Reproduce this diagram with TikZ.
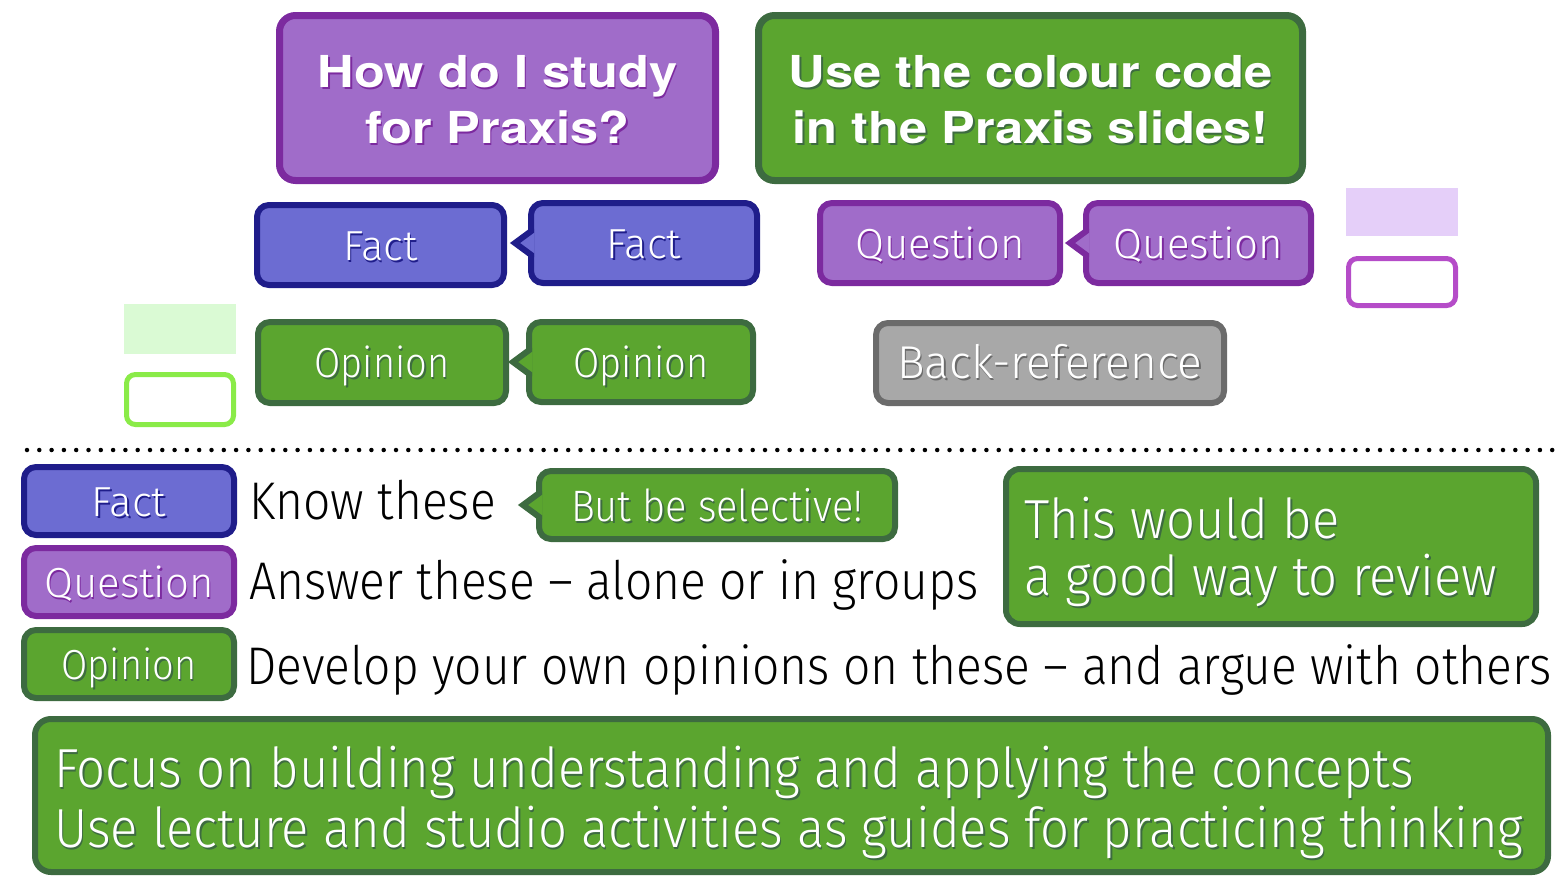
\documentclass[tikz,border=0pt]{standalone}
\usepackage{fontspec}
\setmainfont{Fira Sans Light}
\newfontfamily\legfont{Fira Sans Light}[FakeStretch=0.905]
\newfontfamily\bigfont{Fira Sans Light}[FakeStretch=0.925]
\newfontfamily\headfont{TeX Gyre Heros}[FakeStretch=1.15]
\usetikzlibrary{calc}

\definecolor{factfill}{HTML}{6C6CD2}
\definecolor{factline}{HTML}{1F1D8A}
\definecolor{qfill}{HTML}{A06CC9}
\definecolor{qline}{HTML}{7C2A9F}
\definecolor{opfill}{HTML}{5BA52F}
\definecolor{opline}{HTML}{3D6B40}
\definecolor{grfill}{HTML}{A8A8A8}
\definecolor{grline}{HTML}{6B6B6B}
\definecolor{palepurple}{HTML}{E5CFF9}
\definecolor{brightpurple}{HTML}{B54CC8}
\definecolor{palegreen}{HTML}{DAFAD4}
\definecolor{brightgreen}{HTML}{8AEB48}
\colorlet{shc}{black!50}

% white lettering with a small dark drop shadow
\newcommand\shd[1]{\leavevmode\rlap{\kern1.5pt\raisebox{-2pt}{\color{shc}#1}}#1}

\begin{document}
\begin{tikzpicture}[x=1pt,y=-1pt,
  shadowcol/.code={\colorlet{shc}{#1}},
  tag/.style={rounded corners=12pt, line width=6pt, outer sep=0pt, inner sep=0pt,
    text=white, font=\fontsize{42}{46}\selectfont, text height=30pt, text depth=0pt},
  facttag/.style={tag, draw=factline, fill=factfill, shadowcol=factline},
  qtag/.style={tag, draw=qline, fill=qfill, shadowcol=qline},
  optag/.style={tag, draw=opline, fill=opfill, shadowcol=opline,
    font=\legfont\fontsize{42}{46}\selectfont},
  grtag/.style={tag, draw=grline, fill=grfill, shadowcol=grline},
  headbox/.style={rounded corners=16pt, line width=7pt, outer sep=0pt},
  headtext/.style={text=white, inner sep=0pt, anchor=base,
    font=\headfont\bfseries\fontsize{44}{56}\selectfont},
  bigtext/.style={inner sep=0pt, anchor=base west, font=\bigfont\fontsize{55}{60}\selectfont},
  legtext/.style={inner sep=0pt, anchor=base west, text=black,
    font=\legfont\fontsize{53}{58}\selectfont},
  swatch/.style={inner sep=0pt, outer sep=0pt, minimum width=112pt},
  blank/.style={rounded corners=9pt, line width=5pt, fill=white, inner sep=0pt,
    minimum width=107pt},
  dots/.style={line width=4.5pt, line cap=round, dash pattern=on 0pt off 12.3pt},
]
\useasboundingbox (0,0) rectangle (1563,876);

% ---- title boxes
\node[headbox, draw=qline, fill=qfill, minimum width=436pt, minimum height=165pt]
  (h1) at (497.5,98) {};
\node[headtext, shadowcol=qline] (h1a) at (497.5,87) {\shd{How do I study}};
\node[headtext, shadowcol=qline] (h1b) at (497.5,143) {\shd{for Praxis?}};

\node[headbox, draw=opline, fill=opfill, minimum width=544pt, minimum height=165pt]
  (h2) at (1030.5,98) {};
\node[headtext, shadowcol=opline] (h2a) at (1030.5,87) {\shd{Use the colour code}};
\node[headtext, shadowcol=opline] (h2b) at (1030.5,143) {\shd{in the Praxis slides!}};

% ---- sample tags, each pair with a reply bubble
\node[facttag, minimum width=247pt, minimum height=80pt] (f1) at (380.5,245) {\shd{Fact}};
\node[facttag, minimum width=226pt, minimum height=80pt] (f2) at (644,243) {\shd{Fact}};
\node[qtag, minimum width=240pt, minimum height=80pt] (q1) at (940,243) {\shd{Question}};
\node[qtag, minimum width=225pt, minimum height=80pt] (q2) at (1198.5,243) {\shd{Question}};
\node[optag, minimum width=248pt, minimum height=81pt] (o1) at (382,362.5) {\shd{Opinion}};
\node[optag, minimum width=224pt, minimum height=80pt] (o2) at (641,362) {\shd{Opinion}};
\node[grtag, minimum width=348pt, minimum height=80pt, text height=31pt,
  font=\fontsize{46}{50}\selectfont] (br) at (1050,363) {\shd{Back-reference}};

% ---- colour swatches
\node[swatch, fill=palepurple, minimum height=48pt] (sp) at (1402,212) {};
\node[blank, draw=brightpurple, minimum height=47pt] (bp) at (1402,282) {};
\node[swatch, fill=palegreen, minimum height=50pt] (sg) at (180,329) {};
\node[blank, draw=brightgreen, minimum height=50pt] (bg) at (180,399.5) {};

% ---- separator
\coordinate (dl) at (27,450);
\coordinate (dr) at (1558,450);
\draw[dots] (dl) -- (dr);

% ---- legend
\node[facttag, minimum width=210pt, minimum height=68pt] (lf) at (129,501) {\shd{Fact}};
\node[qtag, minimum width=210pt, minimum height=68pt] (lq) at (129,582) {\shd{Question}};
\node[optag, minimum width=210pt, minimum height=68pt] (lo) at (129,664) {\shd{Opinion}};
\node[legtext] (tf) at (249,519) {Know these};
\node[legtext] (tq) at (249,599) {Answer these – alone or in groups};
\node[legtext] (to) at (246,684) {Develop your own opinions on these – and argue with others};

\node[optag, minimum width=356pt, minimum height=68pt,
  font=\legfont\fontsize{44}{48}\selectfont, text height=32pt] (sel) at (717,505)
  {\shd{But be selective!}};

\node[headbox, line width=6pt, rounded corners=14pt, draw=opline, fill=opfill,
  minimum width=530pt, minimum height=155pt] (rev) at (1271,546.5) {};
\node[bigtext, text=white, shadowcol=opline] (rev1) at (1024,538) {\shd{This would be}};
\node[bigtext, text=white, shadowcol=opline] (rev2) at (1024,595) {\shd{a good way to review}};

\node[headbox, line width=6pt, rounded corners=16pt, draw=opline, fill=opfill,
  minimum width=1513pt, minimum height=153pt] (foc) at (791.5,795.5) {};
\node[bigtext, text=white, shadowcol=opline] (foc1) at (54,787)
  {\shd{Focus on building understanding and applying the concepts}};
\node[bigtext, text=white, shadowcol=opline] (foc2) at (54,847)
  {\shd{Use lecture and studio activities as guides for practicing thinking}};

% ---- pointers of the reply bubbles (edges end on the inner side of the border)
\foreach \n/\fc/\lc in {f2/factfill/factline, q2/qfill/qline, o2/opfill/opline, sel/opfill/opline}{
  \fill[\fc] ($(\n.west)+(3,-14)$) -- ($(\n.west)+(-16,0)$) -- ($(\n.west)+(3,14)$) -- cycle;
  \begin{scope}
    \clip ($(\n.west)+(-40,-40)$) rectangle ($(\n.west)+(3,40)$);
    \draw[\lc, line width=6pt, line join=miter]
      ($(\n.west)+(3,-14)$) -- ($(\n.west)+(-16,0)$) -- ($(\n.west)+(3,14)$);
  \end{scope}
}
\end{tikzpicture}
\end{document}
